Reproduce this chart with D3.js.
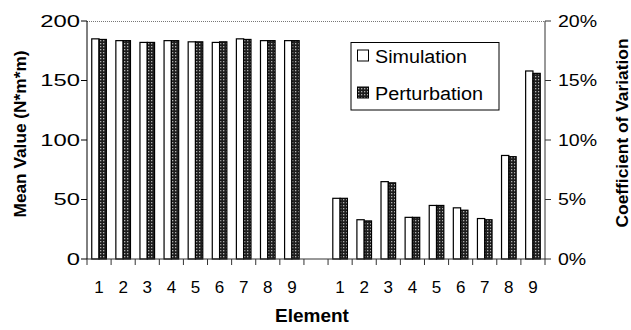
<!DOCTYPE html>
<html>
<head>
<meta charset="utf-8">
<script src="https://cdn.jsdelivr.net/npm/d3@7"></script>
<style>
  body { margin: 0; background: #fff; }
  text { font-family: "Liberation Sans", Arial, sans-serif; fill: #000; }
</style>
</head>
<body>
<div class="chart-container"></div>
<script>
var width = 631;
var height = 330;
var margin = { top: 21, right: 86, bottom: 71, left: 87 };

var elements = ["1", "2", "3", "4", "5", "6", "7", "8", "9"];
var seriesNames = ["Simulation", "Perturbation"];
// mean value, N*m*m
var meanSim = [185, 183.5, 182, 183.5, 182.5, 182, 185, 183.5, 183.5];
var meanPert = [184.5, 183.5, 182, 183.5, 182.5, 182.5, 184.5, 183.5, 183.5];
// coefficient of variation
var covSim = [0.051, 0.033, 0.065, 0.035, 0.045, 0.043, 0.034, 0.087, 0.158];
var covPert = [0.051, 0.032, 0.064, 0.035, 0.045, 0.041, 0.033, 0.086, 0.156];
var leftTicks = [0, 50, 100, 150, 200];
var rightTicks = [0, 0.05, 0.10, 0.15, 0.20];

var svg = d3.select(".chart-container").append("svg")
	.attr("width", width).attr("height", height);

// dotted dark fill for the perturbation bars
var pattern = svg.append("defs").append("pattern")
	.attr("id", "dots")
	.attr("patternUnits", "userSpaceOnUse")
	.attr("width", 3).attr("height", 3);
pattern.append("rect").attr("width", 3).attr("height", 3).attr("fill", "#1e1e1e");
pattern.append("rect").attr("x", 1).attr("y", 1).attr("width", 1.3).attr("height", 1.3).attr("fill", "#b0b0b0");

var x0 = margin.left, x1 = width - margin.right;
var yTop = margin.top, yBot = height - margin.bottom;

/* 9 mean groups, one empty slot, 9 CoV groups */
var slots = d3.range(19);
var x = d3.scaleBand().domain(slots).range([x0, x1]);
var xs = d3.scaleBand().domain(seriesNames).range([0, x.bandwidth()]).paddingOuter(0.65);
var yLeft = d3.scaleLinear().domain([0, 200]).range([yBot, yTop]);
var yRight = d3.scaleLinear().domain([0, 0.2]).range([yBot, yTop]);

var bars = [];
elements.forEach(function(e, i) {
	bars.push({ slot: i, s: "Simulation", y: yLeft(meanSim[i]) });
	bars.push({ slot: i, s: "Perturbation", y: yLeft(meanPert[i]) });
	bars.push({ slot: i + 10, s: "Simulation", y: yRight(covSim[i]) });
	bars.push({ slot: i + 10, s: "Perturbation", y: yRight(covPert[i]) });
});

// frame: top border
svg.append("line").attr("x1", x0).attr("x2", x1).attr("y1", yTop + 0.5).attr("y2", yTop + 0.5)
	.attr("stroke", "#777").attr("stroke-dasharray", "1,1");

svg.selectAll("rect.bar").data(bars).enter().append("rect")
	.attr("class", "bar")
	.attr("x", function(d) { return x(d.slot) + xs(d.s); })
	.attr("width", xs.bandwidth())
	.attr("y", function(d) { return d.y; })
	.attr("height", function(d) { return yBot - d.y; })
	.attr("fill", function(d) { return d.s == "Simulation" ? "#fff" : "url(#dots)"; })
	.attr("stroke", "#000")
	.attr("stroke-width", 1.2);

// x axis with ticks between categories
svg.append("line").attr("x1", x0).attr("x2", x1).attr("y1", yBot).attr("y2", yBot)
	.attr("stroke", "#333").attr("stroke-width", 1);
slots.concat([19]).forEach(function(s) {
	var xx = s < 19 ? x(s) : x1;
	svg.append("line").attr("x1", xx).attr("x2", xx).attr("y1", yBot).attr("y2", yBot + 6)
		.attr("stroke", "#333");
});
slots.forEach(function(s) {
	if (s == 9) return;
	var label = s < 9 ? elements[s] : elements[s - 10];
	svg.append("text")
		.attr("x", x(s) + x.bandwidth() / 2)
		.attr("y", 293)
		.attr("text-anchor", "middle")
		.attr("font-size", 17)
		.text(label);
});

// left axis
svg.append("line").attr("x1", x0).attr("x2", x0).attr("y1", yTop).attr("y2", yBot)
	.attr("stroke", "#000");
leftTicks.forEach(function(t) {
	svg.append("line").attr("x1", x0 - 6).attr("x2", x0).attr("y1", yLeft(t)).attr("y2", yLeft(t))
		.attr("stroke", "#000");
	svg.append("text").attr("x", 80).attr("y", yLeft(t) + 6)
		.attr("text-anchor", "end").attr("font-size", 17)
		.attr("transform", "translate(80,0) scale(1.4,1) translate(-80,0)")
		.text(t);
});

// right axis
svg.append("line").attr("x1", x1).attr("x2", x1).attr("y1", yTop).attr("y2", yBot)
	.attr("stroke", "#333");
rightTicks.forEach(function(t) {
	svg.append("line").attr("x1", x1).attr("x2", x1 + 6).attr("y1", yRight(t)).attr("y2", yRight(t))
		.attr("stroke", "#333");
	svg.append("text").attr("x", 558).attr("y", yRight(t) + 6)
		.attr("font-size", 17)
		.attr("transform", "translate(558,0) scale(1.15,1) translate(-558,0)")
		.text(d3.format(".0%")(t));
});

// axis titles
svg.append("text")
	.attr("transform", "translate(26,134) rotate(-90)")
	.attr("text-anchor", "middle").attr("font-size", 16).attr("font-weight", "bold")
	.attr("textLength", 167).attr("lengthAdjust", "spacingAndGlyphs")
	.text("Mean Value (N*m*m)");
svg.append("text")
	.attr("transform", "translate(628,133) rotate(-90)")
	.attr("text-anchor", "middle").attr("font-size", 16).attr("font-weight", "bold")
	.attr("textLength", 189).attr("lengthAdjust", "spacingAndGlyphs")
	.text("Coefficient of Variation");
svg.append("text")
	.attr("x", 312).attr("y", 322)
	.attr("text-anchor", "middle").attr("font-size", 19).attr("font-weight", "bold")
	.text("Element");

// legend
var legendWidths = [92, 108];
var legend = svg.append("g");
legend.append("rect").attr("x", 351).attr("y", 42.5).attr("width", 148).attr("height", 67.5)
	.attr("fill", "#fff").attr("stroke", "#000");
seriesNames.forEach(function(s, i) {
	var ly = 50 + i * 37;
	legend.append("rect").attr("x", 357.5).attr("y", ly).attr("width", 11).attr("height", 11)
		.attr("fill", i == 0 ? "#fff" : "url(#dots)").attr("stroke", "#000");
	legend.append("text").attr("x", 375).attr("y", ly + 12.5)
		.attr("font-size", 18)
		.attr("textLength", legendWidths[i]).attr("lengthAdjust", "spacingAndGlyphs")
		.text(s);
});
</script>
</body>
</html>
